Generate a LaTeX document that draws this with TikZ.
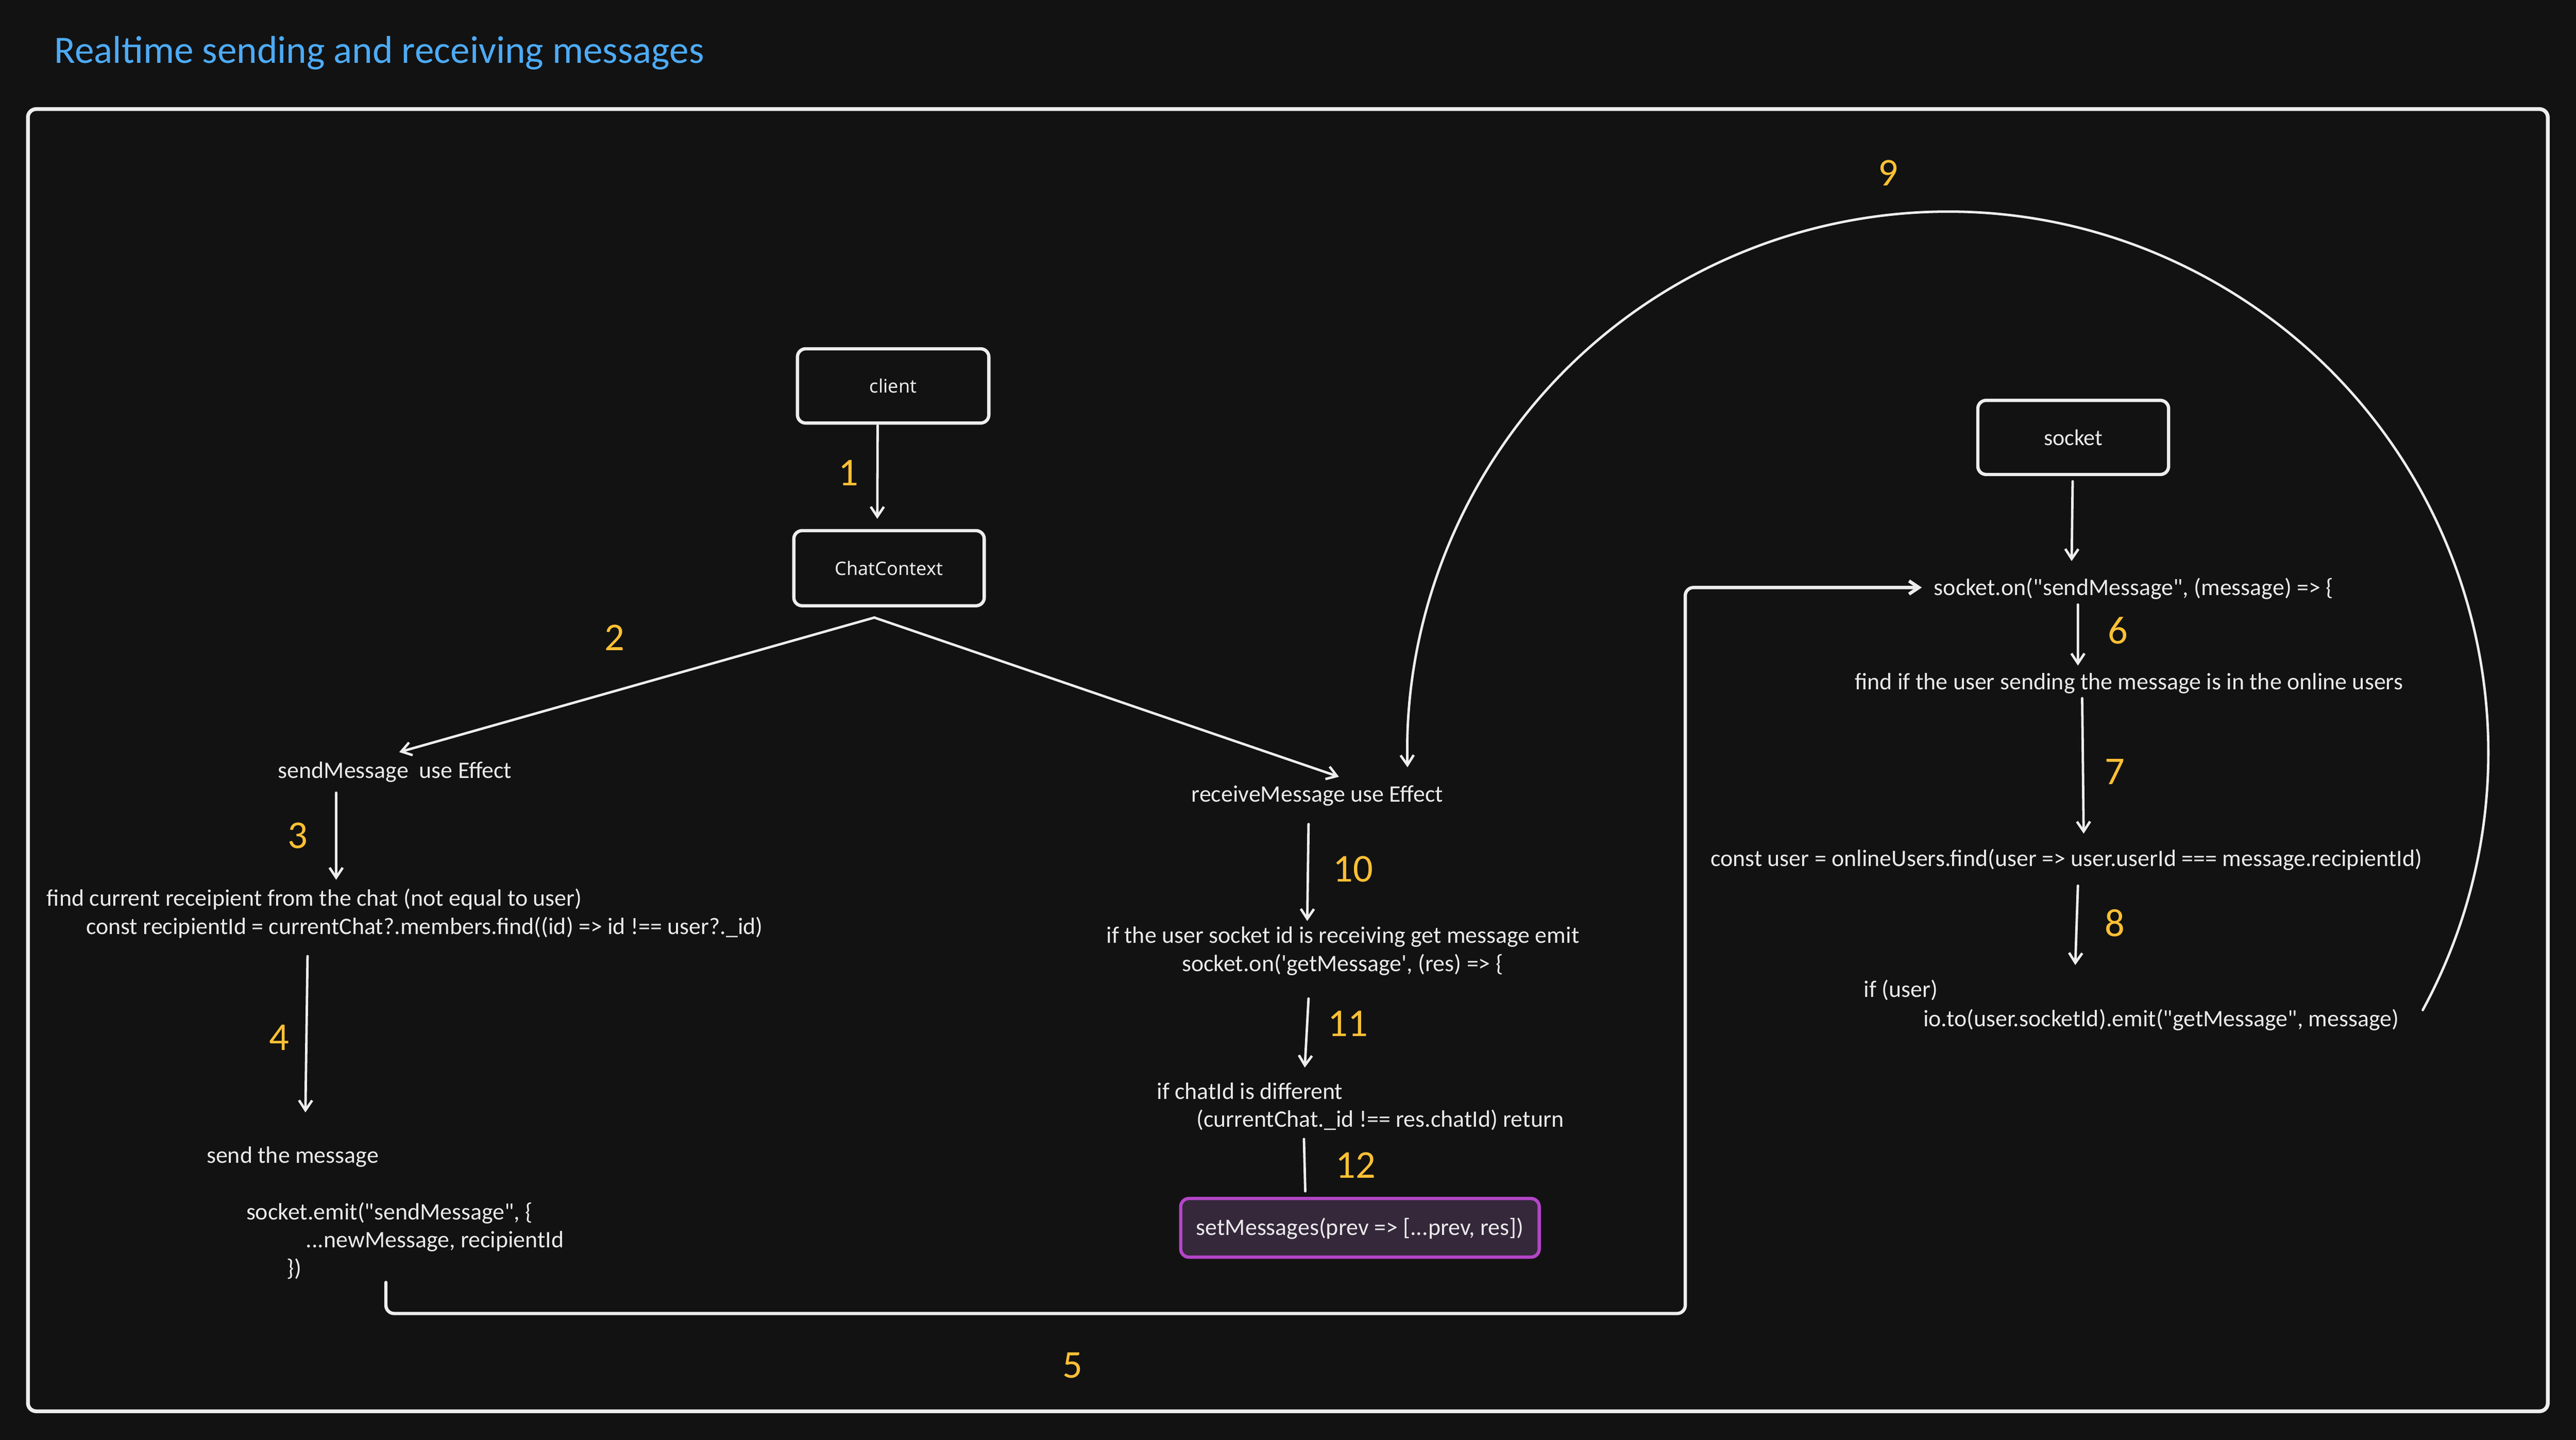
\documentclass[tikz,border=0pt]{standalone}
\usepackage{fontspec}
\setmainfont{Carlito}[Ligatures=TeXOff]
\newfontfamily\boxfont{Noto Sans}[Ligatures=TeXOff]
\usetikzlibrary{arrows.meta}
\definecolor{bg}{HTML}{121212}
\definecolor{fg}{HTML}{EAEAEA}
\definecolor{wline}{HTML}{EEEEEE}
\definecolor{numc}{HTML}{FFC034}
\definecolor{titlec}{HTML}{4DABF7}
\definecolor{purpb}{HTML}{B445C8}
\definecolor{purpf}{HTML}{35283B}
\begin{document}
\begin{tikzpicture}[x=1pt,y=-1pt,
  txt/.style={text=fg,inner sep=0pt,text height=9.5pt,text depth=3pt,font=\fontsize{14.4}{17}\selectfont},
  num/.style={text=numc,inner sep=0pt,font=\fontsize{24}{28}\selectfont},
  box/.style={draw=wline,line width=2pt,rounded corners=5pt,inner sep=0pt,text=fg},
  arr/.style={draw=wline,line width=1.5pt,line cap=round,line join=round,-{Straight Barb[length=6pt,width=8pt]}},
  conn/.style={draw=wline,line width=2pt,line cap=round,line join=round,rounded corners=5pt,-{Straight Barb[length=6pt,width=8pt]}},
  plainline/.style={draw=wline,line width=1.5pt,line cap=round},
  frame/.style={draw=wline,line width=2.3pt,rounded corners=5pt},
]
\fill[bg] (0,0) rectangle (1568,876.5);
\useasboundingbox (0,0) rectangle (1568,876.5);

% title
\node[anchor=base west,inner sep=0pt,text=titlec,font=\fontsize{23.6}{27}\selectfont] (title) at (33,38.5) {Realtime sending and receiving messages};

% frame
\draw[frame] (17,66.4) rectangle (1550.8,859);

% boxes
\node[box,minimum width=116.5pt,minimum height=45.2pt,font=\boxfont\fontsize{11.3}{13}\selectfont] (client) at (543.65,234.9) {client};
\node[box,minimum width=115.9pt,minimum height=45.7pt,font=\boxfont\fontsize{11.3}{13}\selectfont] (cc) at (541.15,345.85) {ChatContext};
\node[box,minimum width=116.1pt,minimum height=45.1pt,font=\fontsize{13.8}{16}\selectfont] (sock) at (1261.95,266.25) {socket};
\node[box,draw=purpb,fill=purpf,minimum width=218.2pt,minimum height=35.7pt,text height=9pt,text depth=0pt,font=\fontsize{14.4}{17}\selectfont] (setm) at (827.8,747.35) {setMessages(prev => [...prev, res])};

% left column
\node[txt,anchor=base] (sm) at (240.4,473.8) {sendMessage\ \ use Effect};
\node[txt,anchor=base west] (f1) at (28.3,551.5) {find current receipient from the chat (not equal to user)};
\node[txt,anchor=base west] (f2) at (52.2,568.7) {const recipientId = currentChat?.members.find((id) => id !== user?.\_id)};
\node[txt,anchor=base west] (s1) at (125.6,708) {send the message};
\node[txt,anchor=base west] (s2) at (149.7,742.3) {socket.emit("sendMessage", \{};
\node[txt,anchor=base west] (s3) at (186,759.5) {...newMessage, recipientId};
\node[txt,anchor=base west] (s4) at (174.4,776.7) {\})};

% middle column
\node[txt,anchor=base] (rm) at (801.8,488.2) {receiveMessage use Effect};
\node[txt,anchor=base] (g1) at (817.4,574.1) {if the user socket id is receiving get message emit};
\node[txt,anchor=base] (g2) at (817.2,591.3) {socket.on('getMessage', (res) => \{};
\node[txt,anchor=base west] (c1) at (704,668.9) {if chatId is different};
\node[txt,anchor=base west] (c2) at (728.1,685.9) {(currentChat.\_id !== res.chatId) return};

% right column
\node[txt,anchor=base west] (so) at (1177,362.4) {socket.on("sendMessage", (message) => \{};
\node[txt,anchor=base west] (fi) at (1128.9,419.6) {find if the user sending the message is in the online users};
\node[txt,anchor=base west] (cu) at (1041,527.2) {const user = onlineUsers.find(user => user.userId === message.recipientId)};
\node[txt,anchor=base west] (if1) at (1134.3,607.1) {if (user)};
\node[txt,anchor=base west] (io) at (1170.5,624.7) {io.to(user.socketId).emit("getMessage", message)};

% numbers
\node[num] (n1) at (516.5,287.7) {1};
\node[num] (n2) at (374,388) {2};
\node[num] (n3) at (181.3,508.6) {3};
\node[num] (n4) at (169.8,631.5) {4};
\node[num] (n5) at (653,831) {5};
\node[num] (n6) at (1289.3,383.9) {6};
\node[num] (n7) at (1287.4,469.7) {7};
\node[num] (n8) at (1287.4,561.9) {8};
\node[num] (n9) at (1149.2,105.2) {9};
\node[num] (n10) at (823.5,528.9) {10};
\node[num] (n11) at (820.4,623.2) {11};
\node[num] (n12) at (825.2,709.2) {12};

% connectors
\draw[arr] ([shift={(-9.45,0.5)}]client.south) -- ([shift={(-7.15,-6.2)}]cc.north);
\draw[arr] ([shift={(-8.95,6.2)}]cc.south) -- ([shift={(2.6,-6.3)}]sm.north);
\draw[arr] ([shift={(-8.95,6.2)}]cc.south) -- ([shift={(13.2,-5.7)}]rm.north);
\draw[arr] ([shift={(-35.8,5.5)}]sm.south) -- ([shift={(176.3,-6.3)}]f1.north west);
\draw[arr] ([shift={(135,10.1)}]f2.south west) -- ([shift={(60.3,-21.2)}]s1.north west);
\draw[conn] ([shift={(60.5,0.7)}]s4.south west) |- (1025.8,799.5) |- ([shift={(-7.2,-1.55)}]so.west);
\draw[arr] ([shift={(-0.35,3.2)}]sock.south) -- ([shift={(84,-11.2)}]so.north west);
\draw[arr] ([shift={(87.8,2.4)}]so.south west) -- ([shift={(135.9,-4.8)}]fi.north west);
\draw[arr] ([shift={(138.5,2.2)}]fi.south west) -- ([shift={(227.3,-10.1)}]cu.north west);
\draw[arr] ([shift={(223.8,8.7)}]cu.south west) -- ([shift={(128.9,-10)}]if1.north west);
\draw[arr] ([shift={(304.2,-0.2)}]io.north west) arc[start angle=-28.5,end angle=181.6,radius=329pt];
\draw[arr] ([shift={(-5.3,10.2)}]rm.south) -- ([shift={(-21.7,-3.8)}]g1.north);
\draw[arr] ([shift={(-20.7,13.3)}]g2.south) -- ([shift={(90.2,-9.4)}]c1.north west);
\draw[plainline] ([shift={(65.6,4.2)}]c2.south west) -- ([shift={(-33.3,-3.4)}]setm.north);
\end{tikzpicture}
\end{document}
